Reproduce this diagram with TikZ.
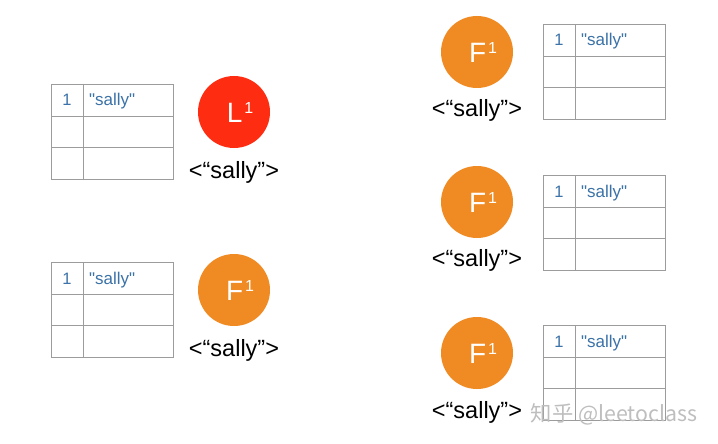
\documentclass[tikz,border=0pt]{standalone}
\usepackage{fontspec}
\setmainfont{Liberation Sans}
\newfontfamily\tfont{Liberation Sans}
\newfontfamily\cjk{Noto Sans CJK SC}
\usetikzlibrary{calc}
\definecolor{tline}{HTML}{9C9C9C}
\definecolor{tblue}{HTML}{3B72A8}
\definecolor{lred}{HTML}{FE2C10}
\definecolor{forange}{HTML}{F08A22}
\definecolor{wmark}{HTML}{BEBEBE}
\tikzset{
  x=1pt, y=-1pt,
  tbl/.style={draw=tline, line width=0.9pt, minimum width=122pt, minimum height=95pt, anchor=north west, inner sep=0pt},
  tgrid/.style={draw=tline, line width=0.9pt},
  num/.style={text=tblue, font=\tfont\fontsize{16.5}{16}\selectfont, inner sep=0pt, anchor=base},
  val/.style={text=tblue, font=\tfont\fontsize{17}{17}\selectfont, inner sep=0pt, anchor=base west},
  circ/.style={circle, minimum size=72pt, inner sep=0pt, text=white, font=\fontsize{28}{28}\selectfont},
  lbl/.style={font=\fontsize{23.5}{24}\selectfont, inner sep=0pt},
  wm/.style={text=wmark, font=\cjk\fontsize{21.3}{22}\selectfont, inner sep=0pt}
}
\newcommand\drawtable[3]{%
  \node[tbl] (#3) at (#1,#2) {};
  \draw[tgrid] ($(#3.north west)+(32,0)$) -- ($(#3.south west)+(32,0)$);
  \draw[tgrid] ($(#3.north west)+(0,32)$) -- ($(#3.north east)+(0,32)$);
  \draw[tgrid] ($(#3.north west)+(0,63.5)$) -- ($(#3.north east)+(0,63.5)$);
  \node[num] (#3-n) at ($(#3.north west)+(16,22)$) {1};
  \node[val] (#3-v) at ($(#3.north west)+(38,22)$) {"sally"};
}
\newcommand\circtext[1]{\hspace{12pt}#1\kern2pt\raisebox{9pt}{\fontsize{16}{16}\selectfont 1}}
\begin{document}
\begin{tikzpicture}
\useasboundingbox[fill=white] (0,0) rectangle (718,444);
% left column
\drawtable{51}{84}{t1}
\node[circ, fill=lred] (c1) at (234,112) {\circtext{L}};
\node[lbl] (l1) at (234,172) {<“sally”>};
\drawtable{51}{262}{t2}
\node[circ, fill=forange] (c2) at (234,290) {\circtext{F}};
\node[lbl] (l2) at (234,350) {<“sally”>};
% right column
\drawtable{543}{24}{t3}
\node[circ, fill=forange] (c3) at (477,52) {\circtext{F}};
\node[lbl] (l3) at (477,110) {<“sally”>};
\drawtable{543}{175}{t4}
\node[circ, fill=forange] (c4) at (477,202) {\circtext{F}};
\node[lbl] (l4) at (477,260) {<“sally”>};
\drawtable{543}{325}{t5}
\node[circ, fill=forange] (c5) at (477,353) {\circtext{F}};
\node[lbl] (l5) at (477,412) {<“sally”>};
% watermark
\node[wm] (wm) at (614,414) {知乎 @leetoclass};
\end{tikzpicture}
\end{document}
